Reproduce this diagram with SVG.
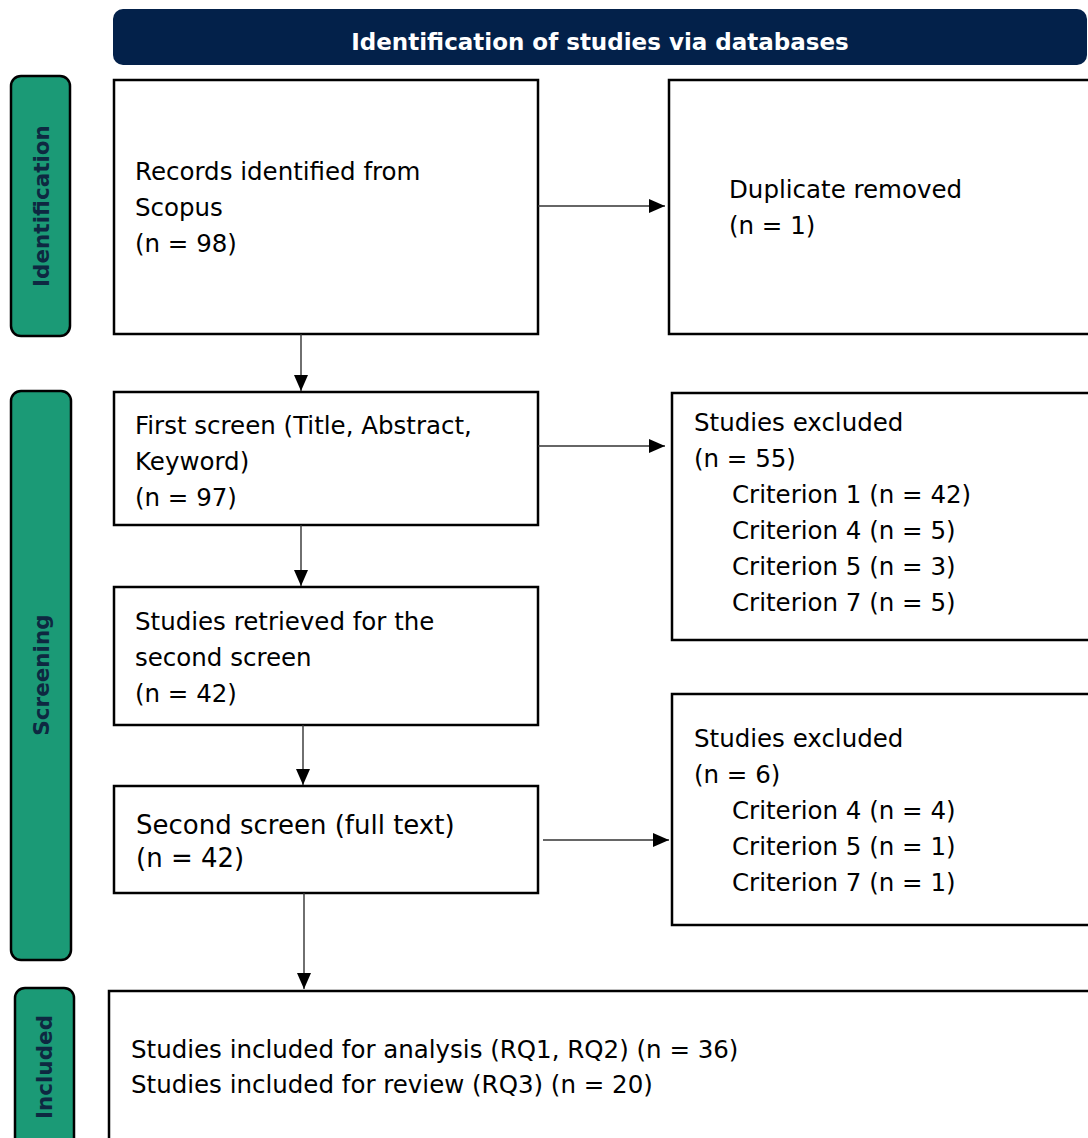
<svg xmlns="http://www.w3.org/2000/svg" width="1088" height="1138" viewBox="0 0 1088 1138">
<style>
.box{fill:#fff;stroke:#000;stroke-width:2.5}
.lbl{fill:#1b9a76;stroke:#000;stroke-width:2.5}
.t{font-family:"DejaVu Sans",sans-serif;font-size:24.5px;fill:#000}
.lt{font-family:"DejaVu Sans",sans-serif;font-weight:bold;font-size:21.5px;fill:#0e2841;text-anchor:middle}
.hd{font-family:"DejaVu Sans",sans-serif;font-weight:bold;font-size:23px;fill:#fff;text-anchor:middle}
.c{stroke:#333;stroke-width:1.4;fill:none;marker-end:url(#ah)}
</style>
<defs>
<marker id="ah" markerUnits="userSpaceOnUse" markerWidth="16" markerHeight="14" refX="16" refY="7" orient="auto">
<path d="M0,0 L16,7 L0,14 Z" fill="#000"/>
</marker>
</defs>
<rect width="1088" height="1138" fill="#fff"/>
<g id="header">
<rect x="113" y="9" width="974" height="56" rx="10" fill="#03214a"/>
<text class="hd" x="600" y="50">Identification of studies via databases</text>
</g>
<g id="label-identification">
<rect class="lbl" x="11" y="76" width="59" height="260" rx="10"/>
<text class="lt" transform="translate(49,206) rotate(-90)">Identification</text>
</g>
<g id="label-screening">
<rect class="lbl" x="11" y="391" width="60" height="569" rx="10"/>
<text class="lt" transform="translate(49,675) rotate(-90)">Screening</text>
</g>
<g id="label-included">
<rect class="lbl" x="15" y="988" width="59" height="170" rx="10"/>
<text class="lt" transform="translate(52,1067) rotate(-90)">Included</text>
</g>
<g id="records">
<rect class="box" x="114" y="80" width="424" height="254"/>
<text class="t" x="135" y="180">Records identified from</text>
<text class="t" x="135" y="216">Scopus</text>
<text class="t" x="135" y="252">(n = 98)</text>
</g>
<g id="duplicate">
<rect class="box" x="669" y="80" width="425" height="254"/>
<text class="t" x="729" y="198">Duplicate removed</text>
<text class="t" x="729" y="234">(n = 1)</text>
</g>
<g id="first-screen">
<rect class="box" x="114" y="392" width="424" height="133"/>
<text class="t" x="135" y="434">First screen (Title, Abstract,</text>
<text class="t" x="135" y="470">Keyword)</text>
<text class="t" x="135" y="506">(n = 97)</text>
</g>
<g id="excluded-1">
<rect class="box" x="672" y="393" width="422" height="247"/>
<text class="t" x="694" y="431">Studies excluded</text>
<text class="t" x="694" y="467">(n = 55)</text>
<text class="t" x="732" y="503">Criterion 1 (n = 42)</text>
<text class="t" x="732" y="539">Criterion 4 (n = 5)</text>
<text class="t" x="732" y="575">Criterion 5 (n = 3)</text>
<text class="t" x="732" y="611">Criterion 7 (n = 5)</text>
</g>
<g id="retrieved">
<rect class="box" x="114" y="587" width="424" height="138"/>
<text class="t" x="135" y="630">Studies retrieved for the</text>
<text class="t" x="135" y="666">second screen</text>
<text class="t" x="135" y="702">(n = 42)</text>
</g>
<g id="second-screen">
<rect class="box" x="114" y="786" width="424" height="107"/>
<text class="t" x="136" y="834" style="font-size:26px">Second screen (full text)</text>
<text class="t" x="136" y="867" style="font-size:26px">(n = 42)</text>
</g>
<g id="excluded-2">
<rect class="box" x="672" y="694" width="422" height="231"/>
<text class="t" x="694" y="747">Studies excluded</text>
<text class="t" x="694" y="783">(n = 6)</text>
<text class="t" x="732" y="819">Criterion 4 (n = 4)</text>
<text class="t" x="732" y="855">Criterion 5 (n = 1)</text>
<text class="t" x="732" y="891">Criterion 7 (n = 1)</text>
</g>
<g id="included">
<rect class="box" x="109" y="991" width="985" height="160"/>
<text class="t" x="131" y="1058">Studies included for analysis (RQ1, RQ2) (n = 36)</text>
<text class="t" x="131" y="1093">Studies included for review (RQ3) (n = 20)</text>
</g>
<g id="connectors">
<line class="c" x1="538" y1="206" x2="665" y2="206"/>
<line class="c" x1="301" y1="334" x2="301" y2="391"/>
<line class="c" x1="538" y1="446" x2="665" y2="446"/>
<line class="c" x1="301" y1="525" x2="301" y2="586"/>
<line class="c" x1="303" y1="725" x2="303" y2="785"/>
<line class="c" x1="543" y1="840" x2="669" y2="840"/>
<line class="c" x1="304" y1="893" x2="304" y2="989"/>
</g>
</svg>
